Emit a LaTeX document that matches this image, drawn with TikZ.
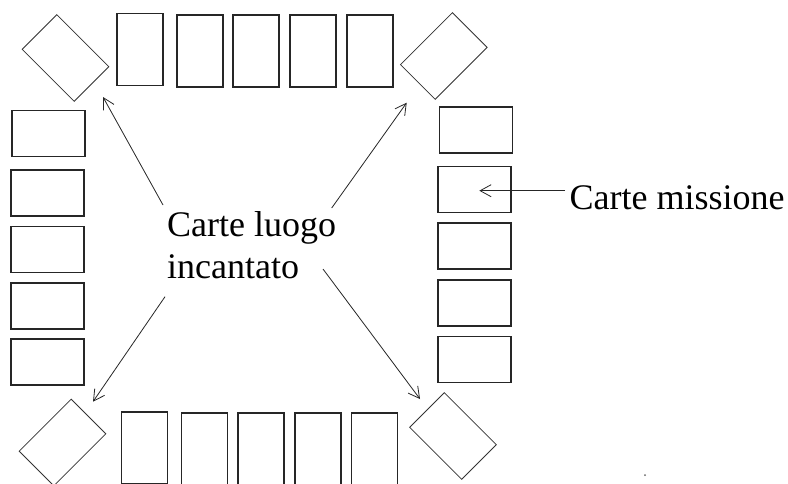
\documentclass[tikz,border=0pt]{standalone}
\usepackage{fontspec}
\setmainfont{Liberation Serif}
\usetikzlibrary{arrows.meta}
\begin{document}
\begin{tikzpicture}[x=1pt,y=-1pt,
  vcard/.style={draw=black!85,line width=1.3pt,minimum width=46pt,minimum height=72pt,inner sep=0pt},
  hcard/.style={draw=black!85,line width=1.3pt,minimum width=73pt,minimum height=46pt,inner sep=0pt},
  place/.style={draw=black!80,line width=0.8pt,minimum width=73.5pt,minimum height=49pt,inner sep=0pt},
  lbl/.style={font=\fontsize{36}{41}\selectfont,inner sep=0pt,anchor=base west},
  pointer/.style={draw=black!85,line width=0.8pt,-{Straight Barb[length=11pt,width=12pt]}}]
\useasboundingbox[fill=white] (0,0) rectangle (788,483);
% corner diamonds
\node[place,rotate=-45] (dtl) at (65.5,58) {};
\node[place,rotate=45]  (dtr) at (443.8,56) {};
\node[place,rotate=-45] (dbr) at (453,436) {};
\node[place,rotate=45]  (dbl) at (62.5,442.5) {};
% top row
\node[vcard] (t1) at (140,49.5) {};
\node[vcard] (t2) at (200,51) {};
\node[vcard] (t3) at (256,51) {};
\node[vcard] (t4) at (313,51) {};
\node[vcard] (t5) at (370,51) {};
% bottom row
\node[vcard] (b1) at (144.3,448) {};
\node[vcard] (b2) at (204.7,449) {};
\node[vcard] (b3) at (261,449) {};
\node[vcard] (b4) at (318,449) {};
\node[vcard] (b5) at (374.7,449) {};
% left column
\node[hcard] (l1) at (48.5,133.3) {};
\node[hcard] (l2) at (47.5,193) {};
\node[hcard] (l3) at (47.5,249.5) {};
\node[hcard] (l4) at (47.5,306) {};
\node[hcard] (l5) at (47.5,362) {};
% right column
\node[hcard] (r1) at (476,130) {};
\node[hcard] (r2) at (474.5,189.5) {};
\node[hcard] (r3) at (474.5,246) {};
\node[hcard] (r4) at (474.5,303) {};
\node[hcard] (r5) at (474.5,359.5) {};
% labels
\node[lbl] (lab1) at (167,236.7) {Carte luogo};
\node[lbl] (lab2) at (167,278) {incantato};
\node[lbl] (lab3) at (569.5,209.3) {Carte missione};
% arrow endpoints
\coordinate (s1) at (163,205);
\coordinate (e1) at (103,97);
\coordinate (s2) at (331.7,208);
\coordinate (e2) at (406.7,102.7);
\coordinate (s3) at (165,296.7);
\coordinate (e3) at (93,401.7);
\coordinate (s4) at (323,269);
\coordinate (e4) at (420,399);
\coordinate (s5) at (565,190.7);
\coordinate (e5) at (479.3,190.7);
\draw[pointer] (s1) -- (e1);
\draw[pointer] (s2) -- (e2);
\draw[pointer] (s3) -- (e3);
\draw[pointer] (s4) -- (e4);
\draw[pointer] (s5) -- (e5);
\fill[black!60] (645,475) circle (1);
\end{tikzpicture}
\end{document}
